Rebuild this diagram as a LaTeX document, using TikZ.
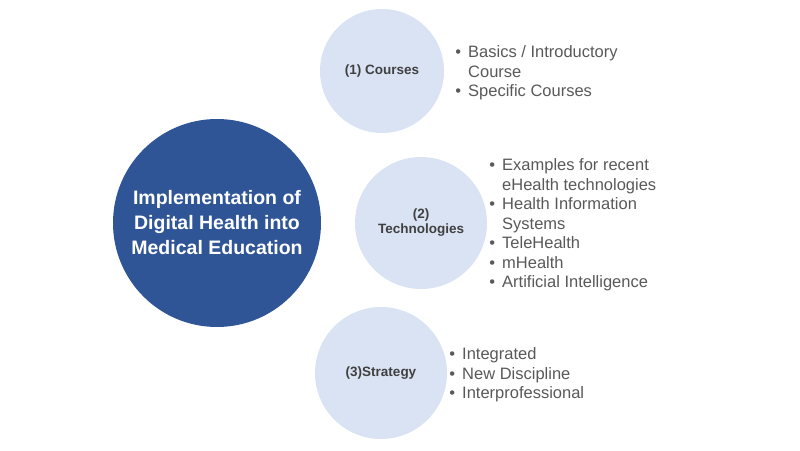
\documentclass[tikz,border=0pt]{standalone}
\usepackage{fontspec}
\setmainfont{Liberation Sans}
\usetikzlibrary{positioning}

\definecolor{mainblue}{HTML}{2F5597}
\definecolor{lightblue}{HTML}{DAE3F3}
\definecolor{txtgray}{HTML}{595959}
\definecolor{lblgray}{HTML}{404040}

\newcommand{\bul}{\textbullet\hspace{7pt}}
\newcommand{\nobul}{\phantom{\textbullet}\hspace{7pt}}

\tikzset{
  main/.style={circle, fill=mainblue, minimum size=208pt, inner sep=0pt,
    text=white, align=center, font=\fontsize{19.5}{25}\selectfont\bfseries},
  topic/.style={circle, fill=lightblue, minimum size=132pt, inner sep=0pt,
    text=lblgray, align=center, font=\fontsize{13.5}{15}\selectfont\bfseries},
  items/.style={text=txtgray, align=left, inner sep=0pt, yshift=-2pt,
    font=\fontsize{16.5}{19.5}\selectfont},
}

\begin{document}
\begin{tikzpicture}[x=1pt, y=-1pt]
\useasboundingbox (0,0) rectangle (800,450);

% main topic
\node[main] (impl) at (217,223) {Implementation of\\Digital Health into\\Medical Education};

% (1) courses
\node[topic, minimum size=124pt] (courses) at (382,71) {(1) Courses};
\node[items, right=11pt of courses] (courses-l)
  {\bul Basics / Introductory\\ \nobul Course\\ \bul Specific Courses};

% (2) technologies
\node[topic] (tech) at (421,223) {(2)\\Technologies};
\node[items, right=2pt of tech] (tech-l)
  {\bul Examples for recent\\ \nobul eHealth technologies\\
   \bul Health Information\\ \nobul Systems\\
   \bul TeleHealth\\ \bul mHealth\\ \bul Artificial Intelligence};

% (3) strategy
\node[topic] (strat) at (381,373) {(3)Strategy};
\node[items, right=2pt of strat] (strat-l)
  {\bul Integrated\\ \bul New Discipline\\ \bul Interprofessional};
\end{tikzpicture}
\end{document}
